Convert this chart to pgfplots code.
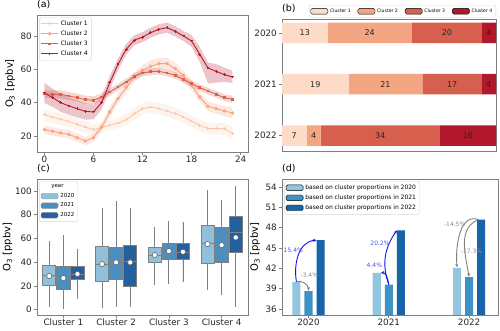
\documentclass[border=0pt]{standalone}
\usepackage{fontspec}
\setmainfont{DejaVu Sans}
\usepackage{pgfplots}
\usepackage{pgfplotstable}
\pgfplotsset{compat=1.18}
\usepgfplotslibrary{fillbetween,statistics}
\usetikzlibrary{arrows.meta}

\definecolor{c1}{HTML}{FDDBC7}
\definecolor{c1l}{HTML}{FBC7AA}
\definecolor{c2}{HTML}{F4A582}
\definecolor{c3}{HTML}{D6604D}
\definecolor{c4}{HTML}{B2182B}
\definecolor{bb1}{HTML}{90C0DA}
\definecolor{bb2}{HTML}{4C8FBF}
\definecolor{bb3}{HTML}{24609E}
\definecolor{b1}{HTML}{92C5DE}
\definecolor{b2}{HTML}{3F93C4}
\definecolor{b3}{HTML}{1764AB}
\definecolor{frame}{HTML}{808080}
\definecolor{arrblue}{HTML}{1010F0}
\definecolor{txtblue}{HTML}{5050F5}

% hour, mean, lower, upper
\pgfplotstableread{
h m lo hi
0 32.8 29.3 36.3
1 31.4 27.9 34.9
2 30.0 26.5 33.5
3 28.8 25.3 32.3
4 27.0 23.5 30.5
5 25.4 21.9 28.9
6 23.8 20.3 27.3
7 25.0 22.0 28.0
8 26.4 23.4 29.4
9 27.8 24.8 30.8
10 29.8 26.3 33.3
11 33.4 29.9 36.9
12 36.4 32.9 39.9
13 37.4 33.9 40.9
14 36.4 32.9 39.9
15 35.0 31.5 38.5
16 33.4 29.9 36.9
17 31.4 27.9 34.9
18 29.0 25.5 32.5
19 26.4 22.9 29.9
20 24.4 20.9 27.9
21 24.4 20.9 27.9
22 24.4 20.9 27.9
23 21.4 17.4 25.4
}\cla
\pgfplotstableread{
h m lo hi
0 23.8 21.3 26.3
1 22.8 20.3 25.3
2 21.8 19.3 24.3
3 21.0 18.5 23.5
4 19.0 16.5 21.5
5 17.0 14.5 19.5
6 19.0 16.5 21.5
7 25.4 22.9 27.9
8 34.4 31.4 37.4
9 42.4 39.4 45.4
10 49.0 46.0 52.0
11 55.4 52.4 58.4
12 59.4 56.4 62.4
13 61.8 58.3 65.3
14 63.4 59.9 66.9
15 63.4 59.9 66.9
16 60.4 56.9 63.9
17 56.4 53.4 59.4
18 50.4 47.4 53.4
19 43.4 40.4 46.4
20 37.8 34.8 40.8
21 36.4 33.4 39.4
22 35.0 32.0 38.0
23 33.8 30.3 37.3
}\clb
\pgfplotstableread{
h m lo hi
0 45.4 43.0 47.8
1 45.0 42.6 47.4
2 45.0 42.6 47.4
3 44.0 41.6 46.4
4 43.0 40.6 45.4
5 41.8 39.4 44.2
6 41.4 39.0 43.8
7 43.4 41.2 45.6
8 46.4 44.2 48.6
9 49.4 47.4 51.4
10 52.4 50.4 54.4
11 55.8 53.8 57.8
12 57.8 55.8 59.8
13 58.6 56.6 60.6
14 58.8 56.8 60.8
15 57.8 55.8 59.8
16 56.4 54.4 58.4
17 53.8 51.8 55.8
18 51.4 49.4 53.4
19 49.0 47.0 51.0
20 47.0 45.0 49.0
21 45.0 43.0 47.0
22 43.0 41.0 45.0
23 42.0 39.8 44.2
}\clc
\pgfplotstableread{
h m lo hi
0 45.8 39.8 51.8
1 43.0 37.5 48.5
2 40.0 34.5 45.5
3 38.0 32.8 43.2
4 36.4 31.2 41.6
5 34.8 29.8 39.8
6 34.4 30.0 38.8
7 40.0 36.0 44.0
8 52.0 48.0 56.0
9 63.0 59.5 66.5
10 72.0 68.8 75.2
11 77.5 74.5 80.5
12 79.3 76.3 82.3
13 82.0 79.0 85.0
14 84.0 81.0 87.0
15 85.0 82.0 88.0
16 82.8 79.8 85.8
17 80.0 77.0 83.0
18 77.0 73.5 80.5
19 69.0 64.5 73.5
20 60.8 51.5 64.0
21 58.8 52.0 63.2
22 56.8 52.5 61.0
23 55.4 51.8 59.2
}\cld

\pgfplotsset{
  panel/.style={
    scale only axis, anchor=south west,
    axis line style={frame, line width=0.7pt},
    tick style={frame, line width=0.7pt},
    tick align=outside, major tick length=3pt,
    xtick pos=bottom, ytick pos=left,
    tick label style={font=\fontsize{8.8}{10}\selectfont, text=black!85},
    yticklabel style={inner xsep=2pt},
    xticklabel style={inner ysep=1pt},
    label style={font=\fontsize{10}{11}\selectfont},
    title style={font=\fontsize{9.5}{10}\selectfont, at={(0,1)}, anchor=south west, inner sep=0pt},
    /pgf/number format/assume math mode=true,
    legend cell align=left,
  },
  lg/.style={legend style={draw=black!15, fill=white, rounded corners=1.5pt, inner sep=1.5pt,
    font=\fontsize{#1}{#1}\selectfont, row sep=0pt}},
}

\begin{document}
\begin{tikzpicture}

% ---------- (a) diurnal cycles ----------
\begin{axis}[panel, at={(37pt,179pt)}, width=211pt, height=137pt,
  xmin=-0.9, xmax=24.9, ymin=10.4, ymax=92.6,
  xtick={0,6,...,24}, ytick={20,40,60,80},
  ylabel={O\textsubscript{3} [ppbv]}, title={(a)},
  lg=6, legend style={at={(0.01,0.985)}, anchor=north west}]
\addplot[name path=au1, draw=none, forget plot] table[x=h, y=hi] {\cla};
\addplot[name path=al1, draw=none, forget plot] table[x=h, y=lo] {\cla};
\addplot[c1, fill opacity=0.3, forget plot] fill between[of=au1 and al1];
\addplot[name path=au2, draw=none, forget plot] table[x=h, y=hi] {\clb};
\addplot[name path=al2, draw=none, forget plot] table[x=h, y=lo] {\clb};
\addplot[c2, fill opacity=0.25, forget plot] fill between[of=au2 and al2];
\addplot[name path=au3, draw=none, forget plot] table[x=h, y=hi] {\clc};
\addplot[name path=al3, draw=none, forget plot] table[x=h, y=lo] {\clc};
\addplot[c3, fill opacity=0.25, forget plot] fill between[of=au3 and al3];
\addplot[name path=au4, draw=none, forget plot] table[x=h, y=hi] {\cld};
\addplot[name path=al4, draw=none, forget plot] table[x=h, y=lo] {\cld};
\addplot[c4, fill opacity=0.25, forget plot] fill between[of=au4 and al4];
\addplot[c1l, line width=0.9pt, mark=+, mark size=1.3pt] table[x=h, y=m] {\cla};
\addlegendentry{Cluster 1}
\addplot[c2, line width=0.9pt, mark=*, mark size=1.2pt] table[x=h, y=m] {\clb};
\addlegendentry{Cluster 2}
\addplot[c3, line width=0.9pt, mark=square*, mark size=0.9pt] table[x=h, y=m] {\clc};
\addlegendentry{Cluster 3}
\addplot[c4, line width=0.9pt, mark=+, mark size=1.4pt, mark options={line width=1pt}] table[x=h, y=m] {\cld};
\addlegendentry{Cluster 4}
\end{axis}

% ---------- (b) cluster counts ----------
\begin{axis}[panel, at={(282pt,180pt)}, width=214pt, height=132pt,
  xbar stacked, bar width=0.4,
  xmin=0, xmax=61, ymin=-0.27, ymax=2.3, y dir=reverse,
  ytick={0,1,2}, yticklabels={2020,2021,2022}, xtick=\empty,
  title={(b)},
  lg=4.6, legend columns=4, legend style={at={(1,1.012)}, anchor=south east,
    /tikz/every even column/.append style={column sep=5pt}},
  area legend]
\addplot[fill=c1, draw=none] coordinates {(13,0) (19,1) (7,2)};
\addlegendentry{Cluster 1}
\addplot[fill=c2, draw=none] coordinates {(24,0) (21,1) (4,2)};
\addlegendentry{Cluster 2}
\addplot[fill=c3, draw=none] coordinates {(20,0) (17,1) (34,2)};
\addlegendentry{Cluster 3}
\addplot[fill=c4, draw=none] coordinates {(4,0) (4,1) (16,2)};
\addlegendentry{Cluster 4}
\end{axis}
% segment labels for (b), in an overlay with the same limits
\begin{axis}[at={(282pt,180pt)}, anchor=south west, scale only axis, width=214pt, height=132pt,
  xmin=0, xmax=61, ymin=-0.27, ymax=2.3, y dir=reverse, hide axis]
\addplot[draw=none, forget plot] coordinates {(0,0) (61,2)};
\tikzset{bl/.style={font=\fontsize{8}{9}\selectfont, text=black!85}}
\node[bl] at (axis cs:6.5,0) {13};
\node[bl] at (axis cs:25,0) {24};
\node[bl] at (axis cs:47,0) {20};
\node[bl] at (axis cs:59,0) {4};
\node[bl] at (axis cs:9.5,1) {19};
\node[bl] at (axis cs:29.5,1) {21};
\node[bl] at (axis cs:48.5,1) {17};
\node[bl] at (axis cs:59,1) {4};
\node[bl] at (axis cs:3.5,2) {7};
\node[bl] at (axis cs:9,2) {4};
\node[bl] at (axis cs:28,2) {34};
\node[bl] at (axis cs:53,2) {16};
\end{axis}

% ---------- (c) boxplots ----------
\begin{axis}[panel, at={(37pt,16pt)}, width=211pt, height=136pt,
  xmin=-0.5, xmax=3.5, ymin=-4.5, ymax=110,
  xtick={0,1,2,3}, xticklabels={Cluster 1,Cluster 2,Cluster 3,Cluster 4},
  ytick={0,20,...,100},
  ylabel={O\textsubscript{3} [ppbv]}, ylabel style={yshift=-3pt}, title={(c)},
  boxplot/draw direction=y,
  lg=5.5, legend style={at={(0.01,0.985)}, anchor=north west}]
\pgfplotsset{bx/.style={forget plot, draw=black!50, line width=0.8pt,
  boxplot prepared={box extend=0.25, whisker extend=0, #1}}}
% cluster 1
\addplot[bx={draw position=-0.267, lower whisker=2, lower quartile=20.2, median=29, upper quartile=37, upper whisker=57.4}, fill=bb1] coordinates {};
\addplot[bx={draw position=0, lower whisker=0.6, lower quartile=17.4, median=27, upper quartile=36.4, upper whisker=62.7}, fill=bb2] coordinates {};
\addplot[bx={draw position=0.267, lower whisker=9, lower quartile=25.2, median=30, upper quartile=36, upper whisker=51}, fill=bb3] coordinates {};
% cluster 2
\addplot[bx={draw position=0.733, lower whisker=1.1, lower quartile=24.1, median=38.4, upper quartile=53.2, upper whisker=85.4}, fill=bb1] coordinates {};
\addplot[bx={draw position=1, lower whisker=2.2, lower quartile=25.8, median=40, upper quartile=52, upper whisker=91.6}, fill=bb2] coordinates {};
\addplot[bx={draw position=1.267, lower whisker=2.2, lower quartile=19.3, median=41, upper quartile=53.8, upper whisker=86}, fill=bb3] coordinates {};
% cluster 3
\addplot[bx={draw position=1.733, lower whisker=21, lower quartile=39.8, median=46, upper quartile=52.4, upper whisker=70}, fill=bb1] coordinates {};
\addplot[bx={draw position=2, lower whisker=21.8, lower quartile=42.6, median=49, upper quartile=55.5, upper whisker=75}, fill=bb2] coordinates {};
\addplot[bx={draw position=2.267, lower whisker=23.2, lower quartile=42.3, median=48.5, upper quartile=55.5, upper whisker=74}, fill=bb3] coordinates {};
% cluster 4
\addplot[bx={draw position=2.733, lower whisker=16.2, lower quartile=38.9, median=56, upper quartile=71.1, upper whisker=100.8}, fill=bb1] coordinates {};
\addplot[bx={draw position=3, lower whisker=12.6, lower quartile=40, median=54, upper quartile=69.5, upper whisker=91.9}, fill=bb2] coordinates {};
\addplot[bx={draw position=3.267, lower whisker=2, lower quartile=48.2, median=65, upper quartile=78.4, upper whisker=104.2}, fill=bb3] coordinates {};
% means
\addplot[only marks, mark=*, mark size=2.6pt, mark options={fill=white, draw=black!60, line width=0.6pt}, forget plot]
  coordinates {(-0.267,28.3) (0,26.6) (0.267,30) (0.733,38.4) (1,39.8) (1.267,39.8)
               (1.733,46) (2,49.3) (2.267,48.7) (2.733,55.2) (3,54.3) (3.267,60.8)};
\addlegendimage{empty legend}
\addlegendentry{\hspace*{-9pt}year}
\addlegendimage{area legend, fill=bb1, draw=black!40}
\addlegendentry{2020}
\addlegendimage{area legend, fill=bb2, draw=black!40}
\addlegendentry{2021}
\addlegendimage{area legend, fill=bb3, draw=black!40}
\addlegendentry{2022}
\end{axis}

% ---------- (d) scenario bars ----------
\begin{axis}[panel, at={(282pt,16pt)}, width=216pt, height=136pt,
  xmin=-0.33, xmax=2.36, ymin=35.1, ymax=55.2, clip=false,
  xtick={0,1,2}, xticklabels={2020,2021,2022},
  ytick={36,39,...,54},
  ylabel={O\textsubscript{3} [ppbv]}, title={(d)},
  ybar, bar width=0.1, area legend,
  lg=6, legend style={at={(0.01,0.985)}, anchor=north west}]
\addplot[fill=b1, draw=none, bar shift=-0.15] coordinates {(0,40.0) (1,41.34) (2,42.07)};
\addlegendentry{based on cluster proportions in 2020}
\addplot[fill=b2, draw=none, bar shift=0] coordinates {(0,38.64) (1,39.6) (2,40.69)};
\addlegendentry{based on cluster proportions in 2021}
\addplot[fill=b3, draw=none, bar shift=0.15] coordinates {(0,46.16) (1,47.6) (2,49.2)};
\addlegendentry{based on cluster proportions in 2022}
\tikzset{pl/.style={font=\fontsize{6}{7}\selectfont, inner sep=0.5pt}}
\draw[-{Stealth[length=3.5pt,width=3pt]}, arrblue, line width=0.9pt] (axis cs:-0.15,40.0) to[out=100,in=185] (axis cs:0.1,46.16);
\draw[-{Stealth[length=3.5pt,width=3pt]}, black!50, line width=0.9pt] (axis cs:-0.15,40.0) to[out=20,in=90] (axis cs:0.0,38.7);
\node[pl, txtblue] at (axis cs:-0.19,44.6) {15.4\%};
\node[pl, black!45] at (axis cs:0.01,40.95) {-3.4\%};
\draw[-{Stealth[length=3.5pt,width=3pt]}, arrblue, line width=0.9pt] (axis cs:1.0,39.6) to[out=110,in=235] (axis cs:1.1,47.6);
\draw[-{Stealth[length=3.5pt,width=3pt]}, arrblue, line width=0.9pt] (axis cs:1.0,39.6) to[out=100,in=10] (axis cs:0.9,41.3);
\node[pl, txtblue] at (axis cs:0.89,45.7) {20.2\%};
\node[pl, txtblue] at (axis cs:0.82,42.4) {4.4\%};
\draw[-{Stealth[length=3.5pt,width=3pt]}, black!50, line width=0.9pt] (axis cs:2.12,49.2) to[out=160,in=95] (axis cs:1.85,42.15);
\draw[-{Stealth[length=3.5pt,width=3pt]}, black!50, line width=0.9pt] (axis cs:2.12,49.2) to[out=200,in=100] (axis cs:2.0,40.75);
\node[pl, black!45] at (axis cs:1.82,48.45) {-14.5\%};
\node[pl, black!45] at (axis cs:2.03,44.5) {-17.3\%};
\end{axis}

\pgfresetboundingbox
\path[use as bounding box] (0pt,0pt) rectangle (500pt,331pt);
\end{tikzpicture}
\end{document}
